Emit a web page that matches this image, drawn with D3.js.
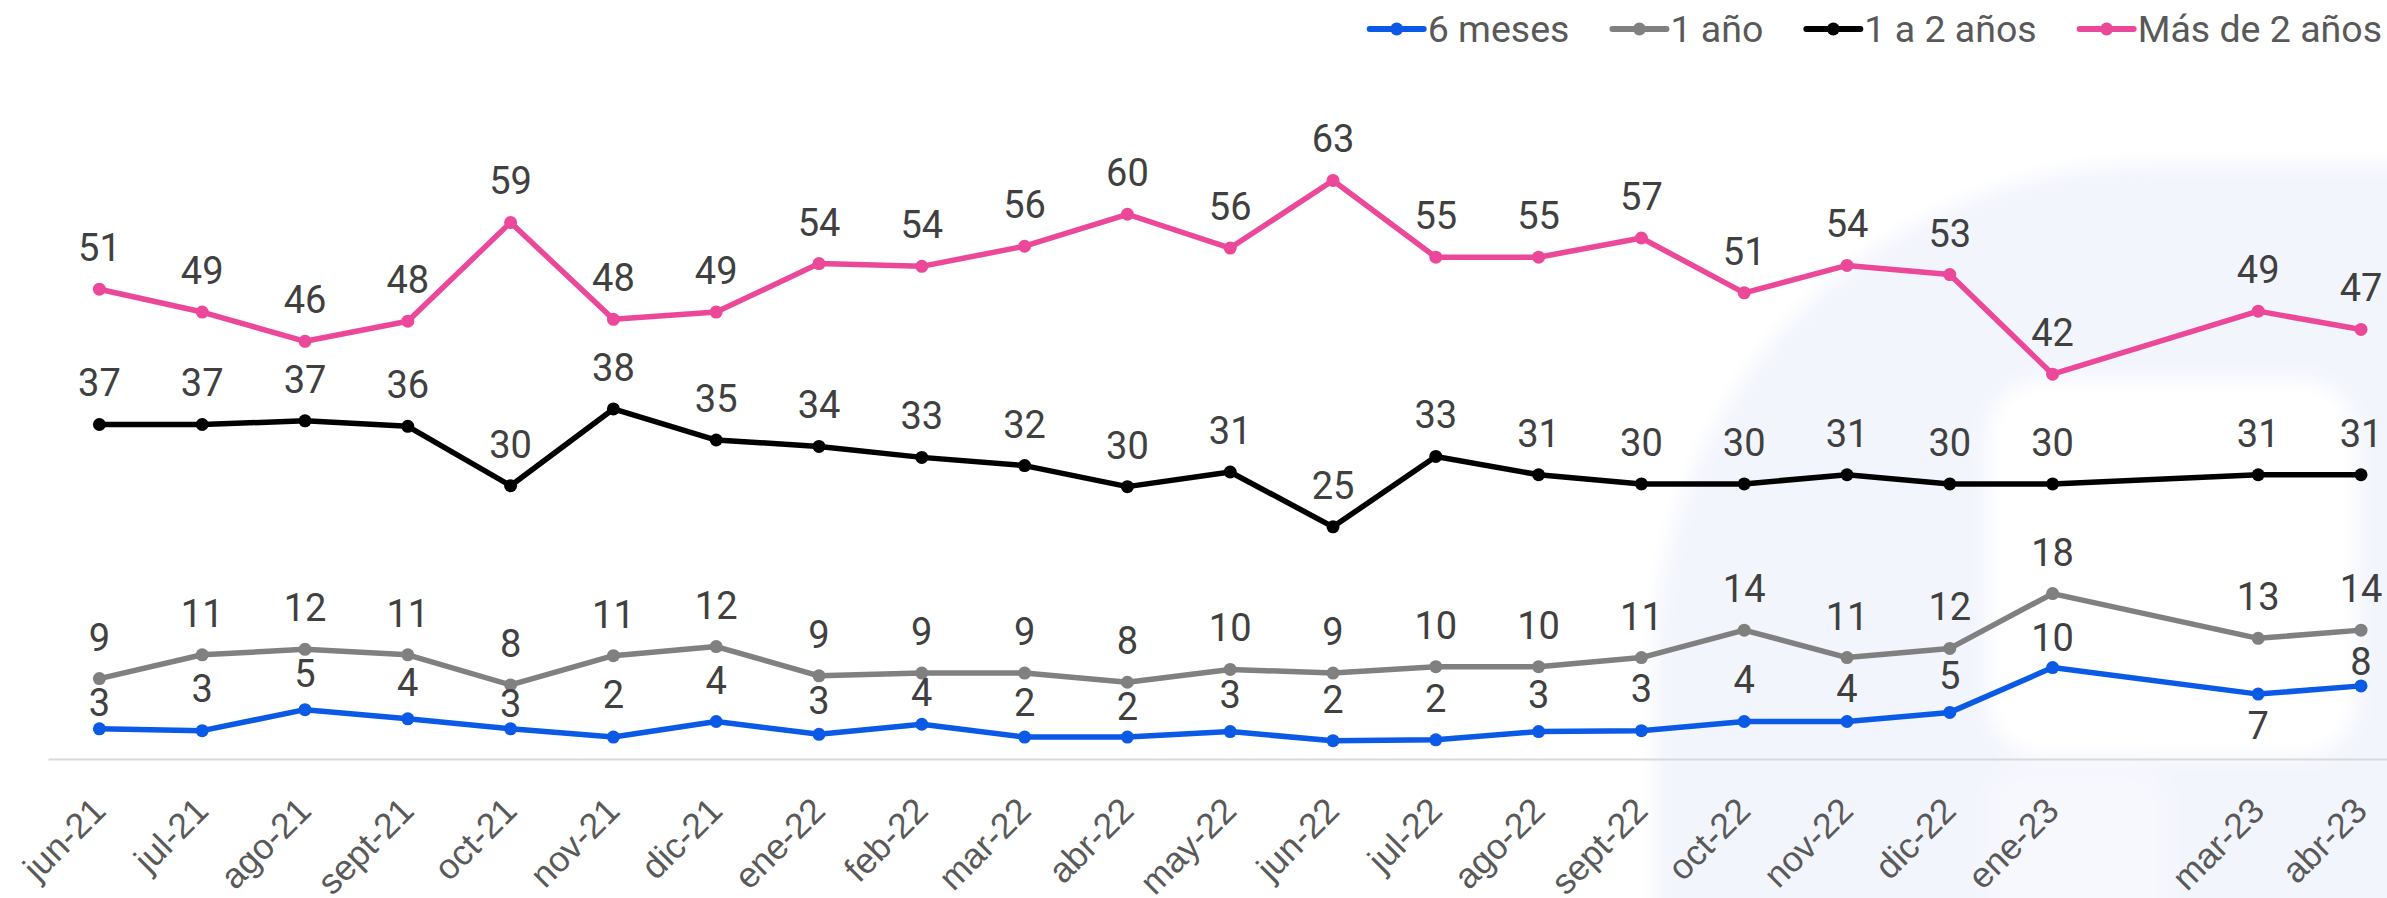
<!DOCTYPE html>
<html lang="es">
<head>
    <meta charset="UTF-8">
    <title>Antigüedad</title>
    <script src="https://d3js.org/d3.v7.min.js"></script>
    <style>
        body { margin: 0; background: #fff; }
        svg { display: block; font-family: Roboto, "Noto Sans", sans-serif; }
        .val { font-size: 38px; fill: #404040; text-anchor: middle; }
        .tick text { font-size: 35.5px; fill: #595959; }
        .legend_text { font-size: 37.5px; fill: #595959; }
    </style>
</head>
<body>
<svg width="2387" height="898"></svg>

<script>
    // categories (month labels) and their dates
    const labels = ["jun-21","jul-21","ago-21","sept-21","oct-21","nov-21","dic-21","ene-22","feb-22","mar-22","abr-22",
        "may-22","jun-22","jul-22","ago-22","sept-22","oct-22","nov-22","dic-22","ene-23","mar-23","abr-23"];
    const dates = ["2021-06","2021-07","2021-08","2021-09","2021-10","2021-11","2021-12","2022-01","2022-02","2022-03","2022-04",
        "2022-05","2022-06","2022-07","2022-08","2022-09","2022-10","2022-11","2022-12","2023-01","2023-03","2023-04"];

    // series values
    const seisMeses = [3.3,3.1,5.4,4.4,3.3,2.4,4.1,2.7,3.8,2.4,2.4,3.0,2.0,2.1,3.0,3.1,4.1,4.1,5.1,10.0,7.1,8.0];
    const unAno     = [8.8,11.4,12.0,11.4,8.1,11.3,12.3,9.1,9.4,9.4,8.4,9.8,9.4,10.1,10.1,11.1,14.1,11.1,12.1,18.1,13.2,14.1];
    const unoADos   = [36.6,36.6,37.0,36.4,29.9,38.3,34.9,34.2,33.0,32.1,29.8,31.4,25.4,33.1,31.1,30.1,30.1,31.1,30.1,30.1,31.1,31.1];
    const masDeDos  = [51.4,48.9,45.7,47.9,58.7,48.1,48.9,54.2,53.9,56.1,59.6,55.9,63.3,54.9,54.9,57.0,51.0,54.0,53.0,42.1,49.0,47.0];

    const seriesNames = ["6 meses", "1 año", "1 a 2 años", "Más de 2 años"];
    const seriesColors = ["#0b5ae6", "#808080", "#000000", "#ec4899"];

    let svg = d3.select("svg");

    // month index, so points sit on a monthly date axis (feb-23 is missing)
    const parse = d3.timeParse("%Y-%m");
    const t0 = parse(dates[0]);
    const monthIdx = dates.map(d => d3.timeMonth.count(t0, parse(d)));

    let x = d3.scaleLinear().domain([-0.5, 22.5]).range([48, 48 + 23 * 102.8]);
    let y = d3.scaleLinear().domain([0, 70]).range([759, 759 - 70 * 9.14]);

    ///////////////// background watermark /////////////////
    let defs = svg.append("defs");
    defs.append("filter").attr("id", "soft")
        .attr("x", "-20%").attr("y", "-20%").attr("width", "140%").attr("height", "140%")
        .append("feGaussianBlur").attr("stdDeviation", 9);
    let wm = svg.append("g").attr("filter", "url(#soft)");
    wm.append("rect").attr("x", 1655).attr("y", 164).attr("width", 1400).attr("height", 1400)
        .attr("rx", 500).attr("fill", "#f3f5fd");
    wm.append("rect").attr("x", 1988).attr("y", 380).attr("width", 368).attr("height", 376)
        .attr("rx", 55).attr("fill", "#ffffff");
    wm.append("rect").attr("x", 1988).attr("y", 766).attr("width", 180).attr("height", 200)
        .attr("rx", 40).attr("fill", "#f7f8fe");

    ///////////////// x axis /////////////////
    let xAxis = svg.append("g").attr("transform", "translate(0,759)")
        .call(d3.axisBottom(x).tickValues(monthIdx).tickSize(0)
            .tickFormat((d, i) => labels[i]));
    xAxis.select(".domain").attr("stroke", "#d9d9d9").attr("stroke-width", 2);
    xAxis.selectAll(".tick text")
        .attr("font-family", null).attr("font-size", null)
        .attr("text-anchor", "end")
        .attr("y", 0).attr("dy", "0.35em")
        .attr("transform", "translate(-1,45) rotate(-45)");

    ///////////////// lines /////////////////
    const allSeries = [seisMeses, unAno, unoADos, masDeDos];
    // label baseline offset from its point, default 28px above
    const labelNudge = {
        0: [-13,-29,-23,-23,-12,-29,-28,-20,-18,-21,-17,-24,-28,-28,-24,-29,-29,-20,-23,-17,45,-11]
    };
    const line = d3.line().x((d, i) => x(monthIdx[i])).y(d => y(d));

    // draw back to front: pink, black, gray, blue
    [3, 2, 1, 0].forEach(function (s) {
        let g = svg.append("g").attr("class", "series");
        g.append("path").datum(allSeries[s])
            .attr("d", line)
            .attr("fill", "none")
            .attr("stroke", seriesColors[s])
            .attr("stroke-width", 5.5)
            .attr("stroke-linejoin", "round");
        g.selectAll("circle").data(allSeries[s]).enter().append("circle")
            .attr("cx", (d, i) => x(monthIdx[i]))
            .attr("cy", d => y(d))
            .attr("r", 6.5)
            .attr("fill", seriesColors[s]);
    });

    [3, 2, 1, 0].forEach(function (s) {
        svg.append("g").selectAll("text").data(allSeries[s]).enter().append("text")
            .attr("class", "val")
            .attr("x", (d, i) => x(monthIdx[i]))
            .attr("y", (d, i) => y(d) + (labelNudge[s] ? labelNudge[s][i] : -28))
            .text(d => d3.format(".0f")(d));
    });

    ///////////////// legend /////////////////
    let legend = svg.append("g");
    let items = legend.selectAll("g").data(seriesNames).enter().append("g");
    items.append("line").attr("x1", 0).attr("x2", 54).attr("y1", 29).attr("y2", 29)
        .attr("stroke", (d, i) => seriesColors[i]).attr("stroke-width", 6).attr("stroke-linecap", "round");
    items.append("circle").attr("cx", 27).attr("cy", 29).attr("r", 6.5)
        .attr("fill", (d, i) => seriesColors[i]);
    items.append("text").attr("class", "legend_text").attr("x", 58).attr("y", 42).text(d => d);

    // lay out right to left
    let right = 2382;
    let widths = [];
    items.each(function () { widths.push(d3.select(this).select("text").node().getComputedTextLength()); });
    let pos = [];
    for (let i = seriesNames.length - 1; i >= 0; i--) {
        let left = right - widths[i] - 58;
        pos[i] = left;
        right = left - 43;
    }
    items.attr("transform", (d, i) => `translate(${pos[i]},0)`);
</script>
</body>
</html>
